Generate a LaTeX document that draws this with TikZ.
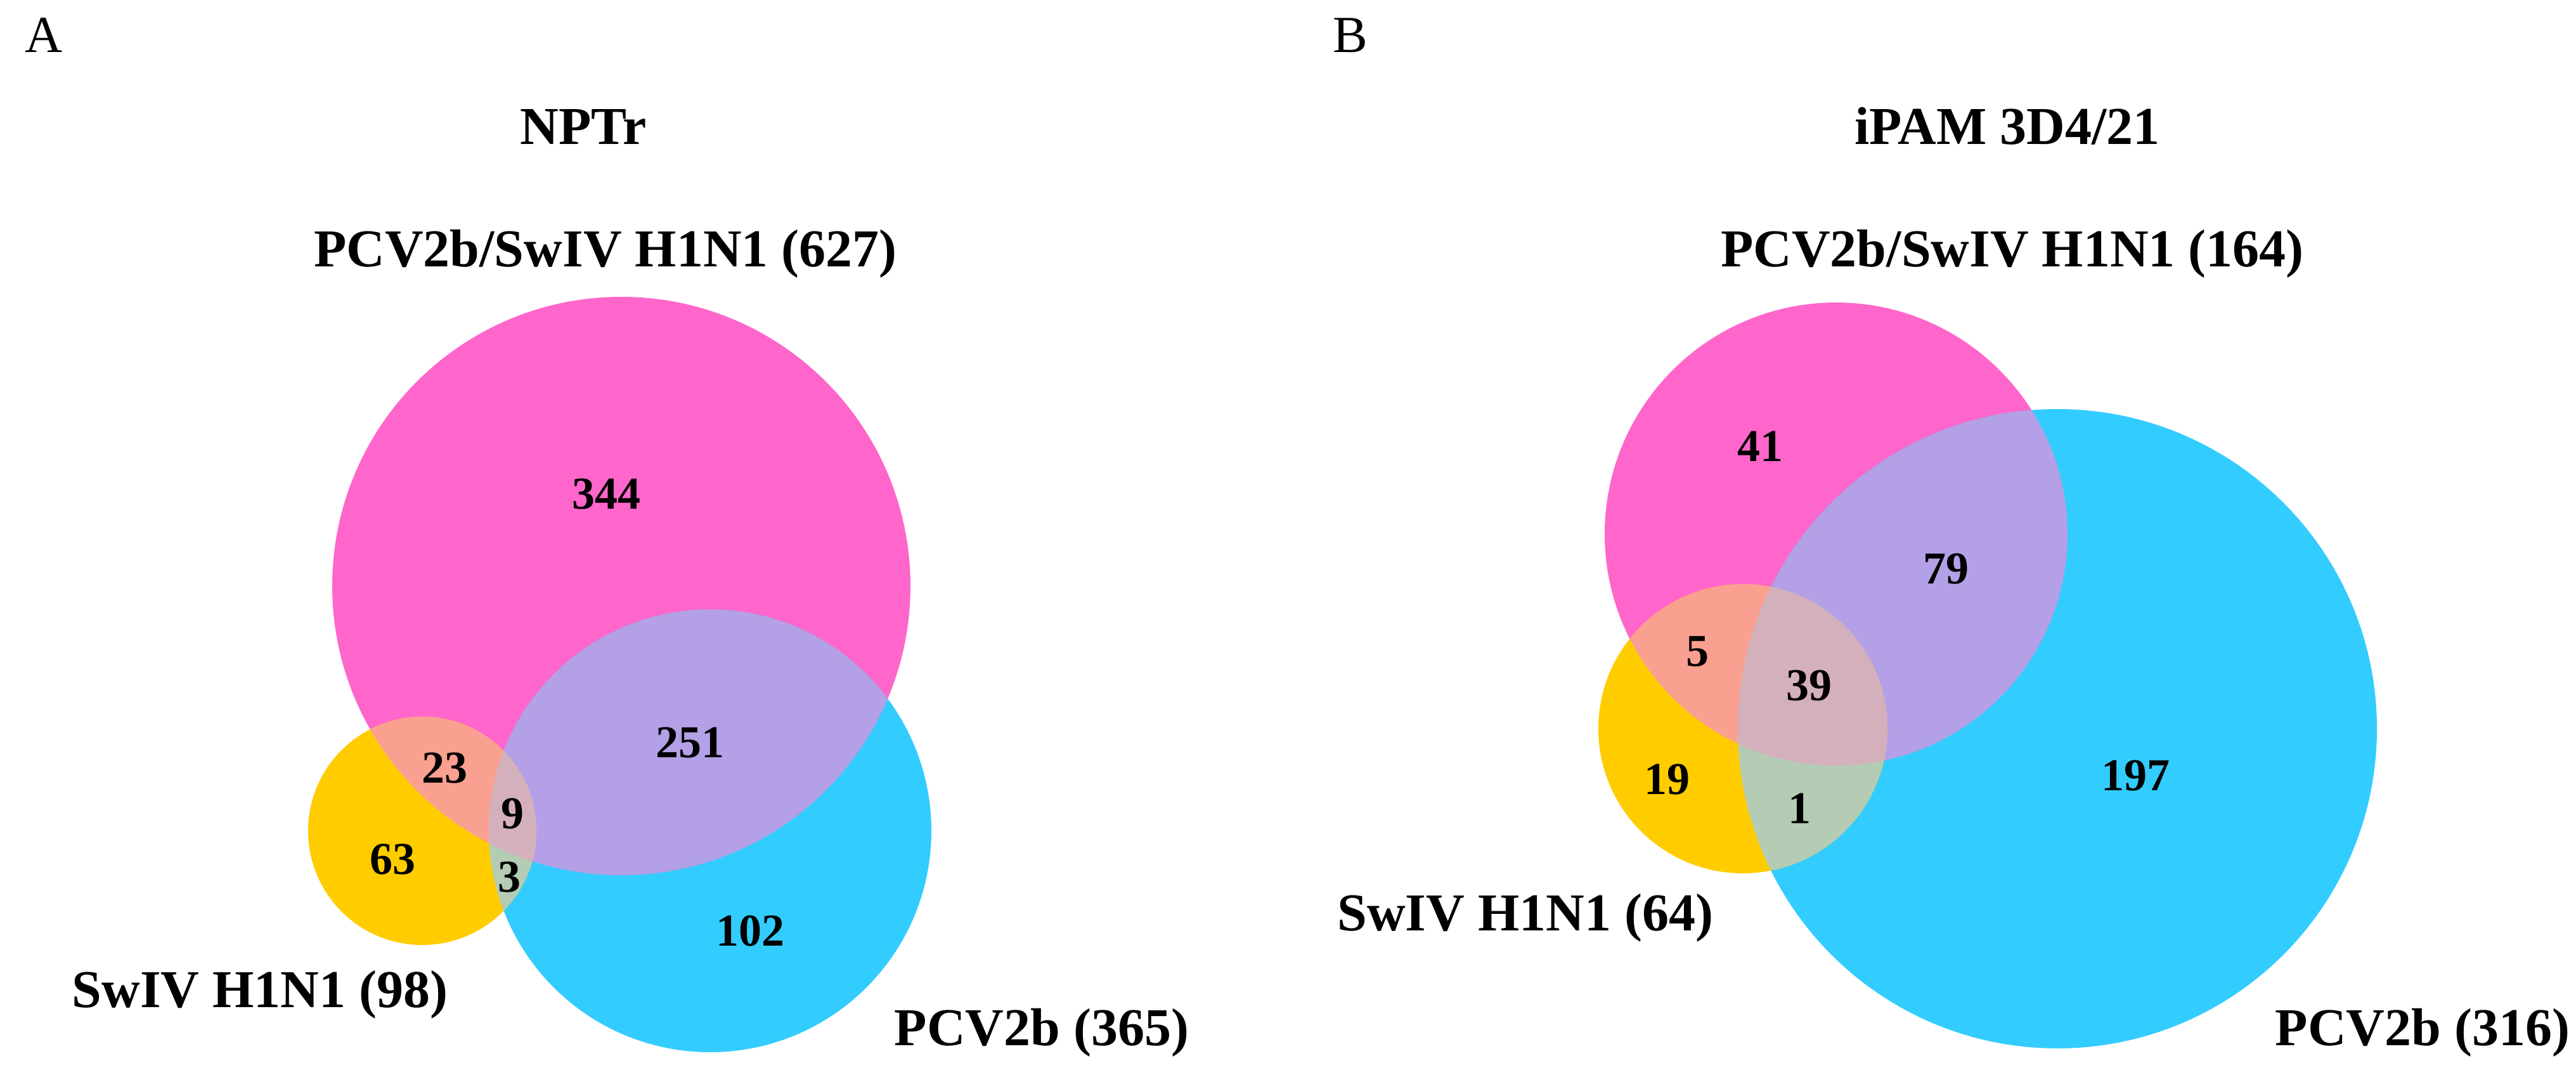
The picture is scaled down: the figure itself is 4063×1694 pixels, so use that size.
\documentclass[tikz,border=0pt]{standalone}
\usepackage{fontspec}
\setmainfont{Liberation Serif}
\definecolor{cpink}{HTML}{FF66CC}
\definecolor{cblue}{HTML}{33CCFF}
\definecolor{cyellow}{HTML}{FFCC00}
\definecolor{cpb}{HTML}{B4A0E6}
\definecolor{cpy}{HTML}{FAA090}
\definecolor{cyb}{HTML}{B4CCB4}
\definecolor{cpyb}{HTML}{D4B0BC}
\tikzset{
  lbl/.style={inner sep=0pt, font=\fontsize{21}{25}\selectfont\bfseries},
  num/.style={inner sep=0pt, anchor=base, font=\fontsize{18}{22}\selectfont\bfseries},
  panel/.style={inner sep=0pt, anchor=base, font=\fontsize{20.5}{24}\selectfont}
}
\newcommand{\vennthree}[9]{%
  % #1,#2,#3 pink cx,cy,r ; #4,#5,#6 blue ; #7,#8,#9 yellow
  \fill[cpink] (#1,#2) circle [radius=#3];
  \fill[cblue] (#4,#5) circle [radius=#6];
  \fill[cyellow] (#7,#8) circle [radius=#9];
  \begin{scope}
    \clip (#1,#2) circle [radius=#3];
    \fill[cpb] (#4,#5) circle [radius=#6];
    \fill[cpy] (#7,#8) circle [radius=#9];
  \end{scope}
  \begin{scope}
    \clip (#4,#5) circle [radius=#6];
    \fill[cyb] (#7,#8) circle [radius=#9];
  \end{scope}
  \begin{scope}
    \clip (#1,#2) circle [radius=#3];
    \clip (#4,#5) circle [radius=#6];
    \fill[cpyb] (#7,#8) circle [radius=#9];
  \end{scope}}
\begin{document}
\begin{tikzpicture}[x=0.25pt,y=-0.25pt]
\useasboundingbox (0,0) rectangle (4063,1694);
\fill[white] (0,0) rectangle (4063,1694);

% ---------- Panel A ----------
\vennthree{980}{924}{456}{1120}{1310}{349}{666}{1310}{180}
\node[panel] (pA) at (69,82) {A};
\node[lbl, anchor=base] (tA) at (920,227) {NPTr};
\node[lbl, anchor=base] (pinkA) at (955,420) {PCV2b/SwIV H1N1 (627)};
\node[lbl, anchor=base] (yelA) at (410,1588) {SwIV H1N1 (98)};
\node[lbl, anchor=base west] (bluA) at (1410,1648) {PCV2b (365)};
\node[num] (a344) at (956,802) {344};
\node[num] (a251) at (1088,1194) {251};
\node[num] (a23) at (701,1234) {23};
\node[num] (a9) at (808,1306) {9};
\node[num] (a63) at (619,1378) {63};
\node[num] (a3) at (803,1406) {3};
\node[num] (a102) at (1183,1491) {102};

% ---------- Panel B ----------
\vennthree{2896}{842}{365}{3245}{1149}{504}{2749}{1149}{228}
\node[panel] (pB) at (2130,82) {B};
\node[lbl, anchor=base] (tB) at (3166,227) {iPAM 3D4/21};
\node[lbl, anchor=base] (pinkB) at (3174,420) {PCV2b/SwIV H1N1 (164)};
\node[lbl, anchor=base east] (yelB) at (2703,1467) {SwIV H1N1 (64)};
\node[lbl, anchor=base west] (bluB) at (3588,1648) {PCV2b (316)};
\node[num] (b41) at (2776,727) {41};
\node[num] (b79) at (3069,920) {79};
\node[num] (b5) at (2677,1050) {5};
\node[num] (b39) at (2853,1104) {39};
\node[num] (b19) at (2629,1252) {19};
\node[num] (b1) at (2838,1298) {1};
\node[num] (b197) at (3368,1246) {197};
\end{tikzpicture}
\end{document}
